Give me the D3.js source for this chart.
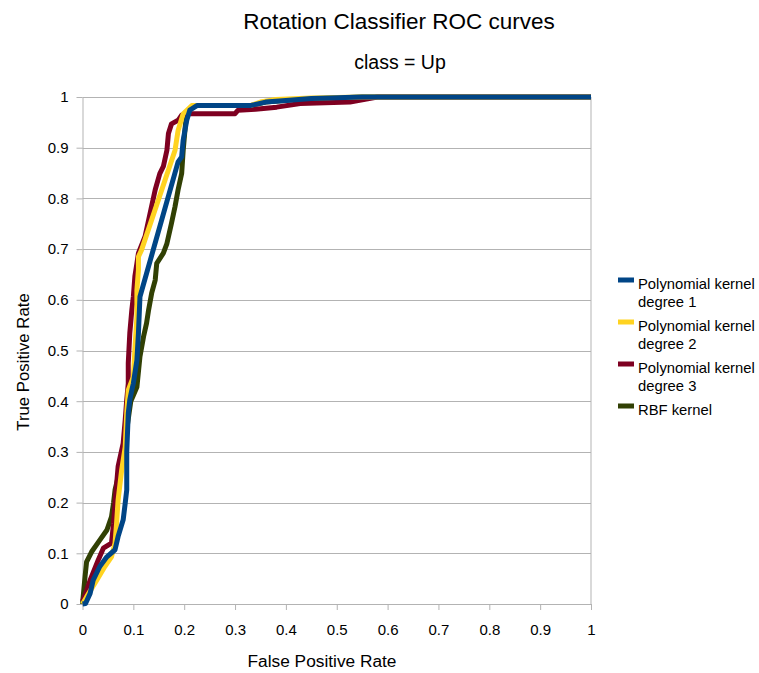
<!DOCTYPE html>
<html><head><meta charset="utf-8">
<script src="https://cdn.jsdelivr.net/npm/d3@7"></script>
<style>body{margin:0;background:#fff}text{font-family:"Liberation Sans",Arial,sans-serif;fill:#000}</style>
</head><body><svg id="c" width="759" height="673"></svg>
<script>
const seriesNames = ["Polynomial kernel degree 1","Polynomial kernel degree 2","Polynomial kernel degree 3","RBF kernel"];
const colors = ["#004586","#ffd320","#7e0021","#314004"];
const xTicks = [0,0.1,0.2,0.3,0.4,0.5,0.6,0.7,0.8,0.9,1];
const yTicks = [0,0.1,0.2,0.3,0.4,0.5,0.6,0.7,0.8,0.9,1];

const deg1X = [0,0.006,0.015,0.021,0.034,0.048,0.064,0.07,0.08,0.084,0.087,0.087,0.09,0.093,0.097,0.1,0.107,0.11,0.113,0.188,0.195,0.198,0.205,0.211,0.225,0.33,0.36,0.4,0.45,0.55,1];
const deg1Y = [0,0.001,0.021,0.047,0.074,0.093,0.107,0.133,0.166,0.199,0.225,0.3,0.376,0.403,0.422,0.435,0.481,0.534,0.606,0.872,0.882,0.915,0.954,0.974,0.983,0.983,0.99,0.993,0.997,1,1];

const deg2X = [0,0.008,0.028,0.044,0.057,0.064,0.067,0.07,0.077,0.084,0.087,0.09,0.1,0.103,0.107,0.107,0.11,0.11,0.116,0.182,0.188,0.198,0.215,0.33,0.35,0.38,0.45,0.55,1];
const deg2Y = [0,0.014,0.047,0.074,0.093,0.12,0.159,0.205,0.264,0.31,0.376,0.422,0.448,0.501,0.567,0.619,0.659,0.685,0.698,0.895,0.934,0.967,0.983,0.983,0.99,0.995,0.998,1,1];

const deg3X = [0,0.006,0.015,0.031,0.041,0.057,0.061,0.064,0.07,0.08,0.084,0.087,0.09,0.09,0.093,0.097,0.1,0.103,0.107,0.11,0.123,0.143,0.152,0.159,0.166,0.169,0.175,0.188,0.195,0.205,0.3,0.306,0.34,0.382,0.428,0.526,0.58,1];
const deg3Y = [0.005,0.02,0.047,0.087,0.11,0.12,0.159,0.199,0.271,0.317,0.363,0.403,0.435,0.475,0.534,0.58,0.606,0.646,0.672,0.692,0.725,0.817,0.849,0.863,0.895,0.928,0.947,0.954,0.964,0.967,0.967,0.974,0.976,0.98,0.987,0.99,1,1];

const rbfX = [0,0.005,0.008,0.018,0.034,0.048,0.057,0.061,0.064,0.07,0.085,0.095,0.107,0.113,0.12,0.126,0.13,0.136,0.143,0.146,0.159,0.166,0.175,0.182,0.188,0.195,0.198,0.202,0.205,0.218,0.33,0.36,0.42,0.5,0.55,1];
const rbfY = [0,0.054,0.083,0.103,0.126,0.146,0.172,0.199,0.225,0.25,0.33,0.4,0.428,0.488,0.527,0.554,0.58,0.613,0.639,0.672,0.692,0.711,0.751,0.784,0.817,0.849,0.895,0.941,0.967,0.983,0.983,0.99,0.995,0.998,1,1];

const svg = d3.select("#c");
const L = 82.5, R = 591, T = 97, B = 604;
const x = d3.scaleLinear().domain([0,1]).range([L,R]);
const y = d3.scaleLinear().domain([0,1]).range([B,T]);
const grid = "#b3b3b3";
const FONT = "Liberation Sans, Arial, sans-serif";

// gridlines
svg.append("g").selectAll("line").data(yTicks).join("line")
  .attr("x1",L).attr("x2",R).attr("y1",d=>Math.round(y(d))+0.5).attr("y2",d=>Math.round(y(d))+0.5)
  .attr("stroke",grid).attr("stroke-width",1);

// axes
const yAxis = d3.axisLeft(y).tickValues(yTicks).tickFormat(d3.format("~g")).tickSizeOuter(0).tickSizeInner(6).tickPadding(8);
const gy = svg.append("g").attr("transform",`translate(${L},0)`).call(yAxis);
const xAxis = d3.axisBottom(x).tickValues(xTicks).tickFormat(d3.format("~g")).tickSizeOuter(0).tickSizeInner(6).tickPadding(14);
const gx = svg.append("g").attr("transform",`translate(0,${B})`).call(xAxis);
[gx,gy].forEach(g=>{
  g.selectAll("path,line").attr("stroke",grid);
  g.selectAll("text").style("font-size","15px").style("font-family",FONT).attr("fill","#000");
});
svg.append("line").attr("x1",R).attr("x2",R).attr("y1",T).attr("y2",B).attr("stroke",grid);

// series (drawn bottom to top)
const series = [
  {name:seriesNames[3], xs:rbfX, ys:rbfY, c:colors[3]},
  {name:seriesNames[2], xs:deg3X, ys:deg3Y, c:colors[2]},
  {name:seriesNames[1], xs:deg2X, ys:deg2Y, c:colors[1]},
  {name:seriesNames[0], xs:deg1X, ys:deg1Y, c:colors[0]}
];
const line = d3.line().x(d=>x(d[0])).y(d=>y(d[1]));
series.forEach(s=>{
  const pts = s.xs.map((v,i)=>[v,s.ys[i]]);
  svg.append("path").attr("d",line(pts)).attr("fill","none")
    .attr("stroke",s.c).attr("stroke-width",5).attr("stroke-linejoin","round");
});

// titles
svg.append("text").attr("x",399).attr("y",29).attr("text-anchor","middle").style("font-size","22.5px").text("Rotation Classifier ROC curves");
svg.append("text").attr("x",400).attr("y",69).attr("text-anchor","middle").style("font-size","19.5px").text("class = Up");
svg.append("text").attr("x",322).attr("y",667).attr("text-anchor","middle").style("font-size","17.3px").text("False Positive Rate");
svg.append("text").attr("transform","translate(29,362) rotate(-90)").attr("text-anchor","middle").style("font-size","16.8px").text("True Positive Rate");

// legend
const legend = [
  {lines:["Polynomial kernel","degree 1"], c:colors[0], sy:280},
  {lines:["Polynomial kernel","degree 2"], c:colors[1], sy:322},
  {lines:["Polynomial kernel","degree 3"], c:colors[2], sy:364},
  {lines:["RBF kernel"], c:colors[3], sy:406}
];
const lg = svg.append("g");
legend.forEach(e=>{
  lg.append("rect").attr("x",618).attr("y",e.sy-2.5).attr("width",16).attr("height",5).attr("fill",e.c);
  e.lines.forEach((t,i)=>{
    lg.append("text").attr("x",638).attr("y",e.sy+9+i*18).style("font-size","14.8px").text(t);
  });
});
</script></body></html>
